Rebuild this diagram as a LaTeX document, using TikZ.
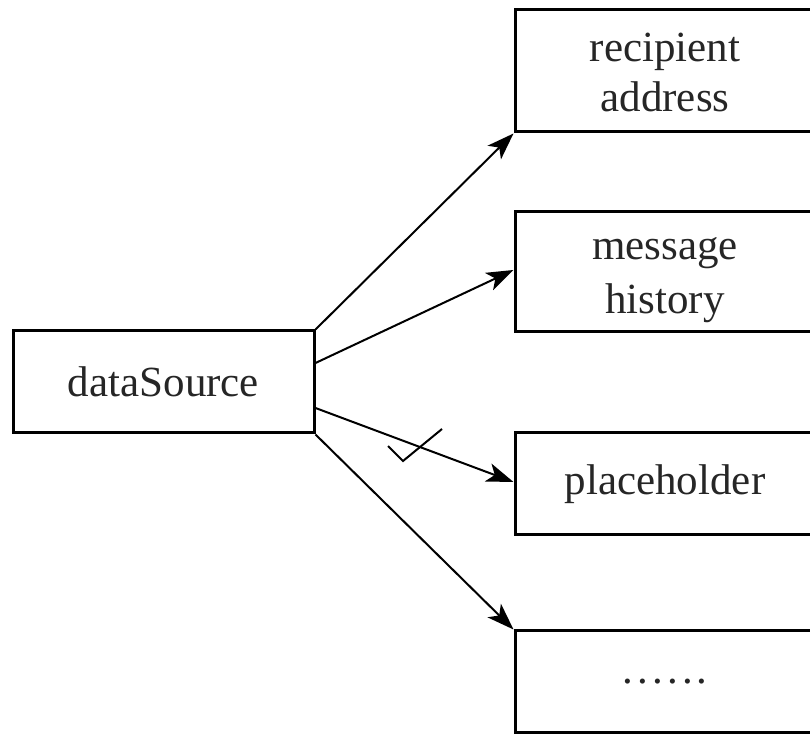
\documentclass[tikz,border=0pt]{standalone}
\usepackage{fontspec}
\setmainfont{Liberation Serif}
\usetikzlibrary{arrows.meta}
\newcommand{\sixdots}{.\kern4.2pt.\kern4.2pt.\kern4.2pt.\kern4.2pt.\kern4.2pt.}
\begin{document}
\begin{tikzpicture}[x=1pt,y=1pt,
  box/.style={draw=black,line width=3pt,rectangle,inner sep=0pt,
    font=\fontsize{43}{50}\selectfont,text=black!85,align=center},
  conn/.style={line width=2pt,-{Stealth[length=27pt,width=19pt,inset=7pt]}},
]
\useasboundingbox (0,0) rectangle (810,735);
\clip (0,0) rectangle (810,735);
\node[box,minimum width=301pt,minimum height=102pt] (ds) at (163.5,353) {dataSource};
\node[box,minimum width=300pt,minimum height=122pt,text height=88pt,text depth=6pt] (b1) at (665,664) {recipient\\address};
\node[box,minimum width=300pt,minimum height=120pt,text height=90pt,text depth=6pt] (b2) at (665,463) {message\\[4pt]history};
\node[box,minimum width=300pt,minimum height=102pt] (b3) at (665,251) {placeholder};
\node[box,minimum width=300pt,minimum height=102pt] (b4) at (665,53) {\sixdots};
\draw[conn] (ds.north east) -- (b1.south west);
\draw[conn] ([yshift=19pt]ds.east) -- ([yshift=2pt]b2.west);
\draw[conn] ([yshift=-26pt]ds.east) -- ([yshift=2pt]b3.west);
\draw[conn] (ds.south east) -- (b4.north west);
\coordinate (c1) at (388,289);
\coordinate (c2) at (403,274);
\coordinate (c3) at (442,306);
\draw[line width=2pt] (c1) -- (c2) -- (c3);
\end{tikzpicture}
\end{document}
